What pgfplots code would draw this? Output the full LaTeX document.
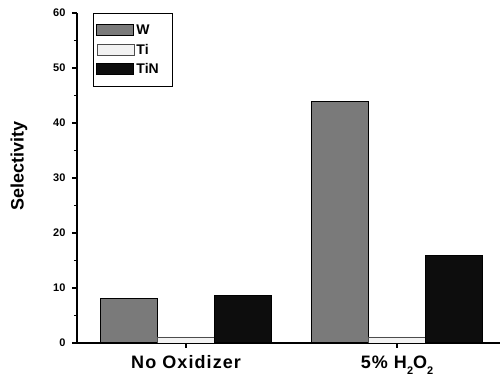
\documentclass[border=0pt]{standalone}
\usepackage{fontspec}
\setmainfont{Liberation Sans}
\usepackage{pgfplots}
\pgfplotsset{compat=1.18}
\definecolor{wgray}{rgb}{0.48,0.48,0.48}
\definecolor{tiwhite}{rgb}{0.95,0.95,0.95}
\definecolor{tinblack}{rgb}{0.05,0.05,0.05}
\newcommand{\sub}[1]{\raisebox{-0.35em}{\fontsize{11}{12}\selectfont #1}}
\begin{document}
\begin{tikzpicture}
\begin{axis}[
  scale only axis, width=423pt, height=330pt,
  ybar=0pt, bar width=57pt,
  xmin=-0.517, xmax=1.488, ymin=0, ymax=60,
  axis lines=left, axis line style={-, line width=1.6pt},
  xtick={0,1}, xticklabels={No Oxidizer, 5\% H\sub{2}O\sub{2}},
  ytick={0,10,20,30,40,50,60}, minor ytick={5,15,25,35,45,55},
  tick align=outside, major tick length=5pt, minor tick length=3pt,
  tick style={line width=1.2pt, black},
  /pgf/number format/assume math mode=true,
  yticklabel style={font=\fontsize{11}{13}\selectfont\bfseries, xshift=-3pt},
  xticklabel style={font=\fontsize{18}{20}\selectfont\bfseries\addfontfeature{LetterSpace=6}, yshift=-4pt},
  ylabel={Selectivity},
  ylabel style={at={(axis description cs:-0.137,0.536)}, anchor=center, font=\fontsize{18}{20}\selectfont\bfseries},
  legend style={at={(axis description cs:0.038,0.999)}, anchor=north west, draw=black, line width=0.8pt,
    font=\fontsize{14}{16}\selectfont\bfseries, row sep=4pt, inner xsep=3pt, inner ysep=9pt},
  legend cell align=left,
  legend image code/.code={\draw[#1] (0pt,-5.5pt) rectangle (37pt,5.5pt);},
]
\coordinate (ll) at (rel axis cs:0,0);
\addplot[fill=wgray, draw=black, line width=1pt] coordinates {(0,8.1) (1,43.9)};
\addplot[fill=tiwhite, draw=black!70, line width=0.8pt] coordinates {(0,1.1) (1,1.1)};
\addplot[fill=tinblack, draw=black, line width=1pt] coordinates {(0,8.7) (1,16)};
\addlegendentry{W}
\addlegendentry{Ti}
\addlegendentry{TiN\rule{9pt}{0pt}}
\end{axis}
\pgfresetboundingbox
\path[use as bounding box] (ll) ++(-77pt,-37pt) rectangle ++(501pt,380pt);
\end{tikzpicture}
\end{document}
